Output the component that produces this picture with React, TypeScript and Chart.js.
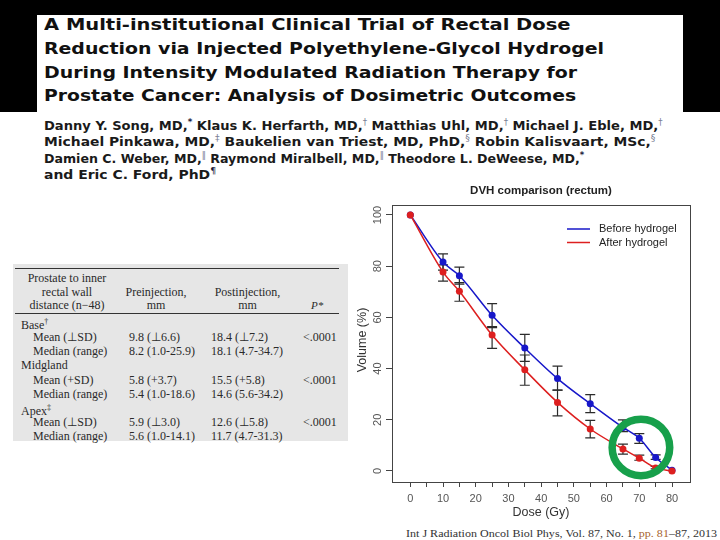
import React, { useEffect, useLayoutEffect, useRef } from 'react';
import { Chart, registerables } from 'chart.js';

Chart.register(...registerables);

// ---------- chart data ----------
const doses = [0, 10, 15, 25, 35, 45, 55, 65, 70, 75, 80];
const beforeHydrogel = [100, 81.6, 76.3, 60.8, 48.0, 36.1, 26.3, 17.0, 12.8, 5.3, 0.3];
const afterHydrogel = [100, 77.7, 70.2, 53.1, 39.5, 26.8, 16.4, 8.6, 5.0, 1.2, 0];
const beforeLow = [null, 78.5, 73.0, 56.4, 42.8, 31.6, 22.8, 15.4, 10.8, 4.5, null];
const beforeHigh = [null, 84.8, 79.6, 65.4, 53.4, 41.0, 29.8, 20.0, 14.6, 6.3, null];
const afterLow = [null, 74.2, 66.3, 47.9, 33.5, 21.5, 12.9, 6.6, 4.2, 0.8, null];
const afterHigh = [null, 80.5, 73.6, 56.0, 45.3, 31.6, 19.8, 10.5, 6.2, 1.8, null];
const yTickValues = [0, 20, 40, 60, 80, 100];
const seriesLabels = ['Before hydrogel', 'After hydrogel'];
const chartTitle = 'DVH comparison (rectum)';
const xTitle = 'Dose (Gy)';
const yTitle = 'Volume (%)';
const highlightCenter = { x: 70.5, y: 9.2 };

// ---------- slide text ----------
const titleLines = [
  'A Multi-institutional Clinical Trial of Rectal Dose',
  'Reduction via Injected Polyethylene-Glycol Hydrogel',
  'During Intensity Modulated Radiation Therapy for',
  'Prostate Cancer: Analysis of Dosimetric Outcomes',
];
const authorLines: [string, string][][] = [
  [['Danny Y. Song, MD,', '*'], [' Klaus K. Herfarth, MD,', '†'], [' Matthias Uhl, MD,', '†'], [' Michael J. Eble, MD,', '†']],
  [['Michael Pinkawa, MD,', '‡'], [' Baukelien van Triest, MD, PhD,', '§'], [' Robin Kalisvaart, MSc,', '§']],
  [['Damien C. Weber, MD,', '‖'], [' Raymond Miralbell, MD,', '‖'], [' Theodore L. DeWeese, MD,', '*']],
  [['and Eric C. Ford, PhD', '¶']],
];
const citation = ['Int J Radiation Oncol Biol Phys, Vol. 87, No. 1, ', 'pp. 81', '–87, 2013'];

const tableHeadLabel = ['Prostate to inner', 'rectal wall', 'distance (n−48)'];
const tableHeadPre = ['Preinjection,', 'mm'];
const tableHeadPost = ['Postinjection,', 'mm'];
const tableHeadP = 'P*';
const tableLabels = ['Base', 'Mean (⊥SD)', 'Median (range)', 'Midgland', 'Mean (+SD)', 'Median (range)', 'Apex', 'Mean (⊥SD)', 'Median (range)'];
const tableLabelSups = ['†', '', '', '', '', '', '‡', '', ''];
const tablePre = ['', '9.8 (⊥6.6)', '8.2 (1.0-25.9)', '', '5.8 (+3.7)', '5.4 (1.0-18.6)', '', '5.9 (⊥3.0)', '5.6 (1.0-14.1)'];
const tablePost = ['', '18.4 (⊥7.2)', '18.1 (4.7-34.7)', '', '15.5 (+5.8)', '14.6 (5.6-34.2)', '', '12.6 (⊥5.8)', '11.7 (4.7-31.3)'];
const tableP = ['', '<.0001', '', '', '<.0001', '', '', '<.0001', ''];

const SANS = '"Liberation Sans", Arial, sans-serif';
const BLUE = '#1717c9';
const RED = '#dd1f1f';

const Txt = ({ x, y, children, center, style }: any) => (
  <div
    style={{
      position: 'absolute',
      left: x,
      top: y - 7,
      lineHeight: '14px',
      whiteSpace: 'nowrap',
      transform: center ? 'translateX(-50%)' : undefined,
      ...style,
    }}
  >
    {children}
  </div>
);

function DvhChart() {
  const ref = useRef<HTMLCanvasElement>(null);
  useEffect(() => {
    const canvas = ref.current!;
    const decor = {
      id: 'decor',
      beforeDatasetsDraw(chart: any) {
        const { ctx, scales } = chart;
        const x = scales.x, y = scales.y;
        ctx.save();
        ctx.strokeStyle = '#2b2b2b';
        ctx.lineWidth = 1.2;
        const pairs = [[beforeLow, beforeHigh], [afterLow, afterHigh]];
        pairs.forEach(([lo, hi]) => {
          doses.forEach((d, i) => {
            if (lo[i] == null || hi[i] == null) return;
            const px = x.getPixelForValue(d);
            const y1 = y.getPixelForValue(lo[i]);
            const y2 = y.getPixelForValue(hi[i]);
            ctx.beginPath();
            ctx.moveTo(px, y1); ctx.lineTo(px, y2);
            ctx.moveTo(px - 5, y1); ctx.lineTo(px + 5, y1);
            ctx.moveTo(px - 5, y2); ctx.lineTo(px + 5, y2);
            ctx.stroke();
          });
        });
        ctx.restore();
      },
      afterDraw(chart: any) {
        const { ctx, chartArea: a, scales } = chart;
        const x = scales.x, y = scales.y;
        ctx.save();
        // frame
        ctx.strokeStyle = '#444';
        ctx.lineWidth = 1;
        ctx.strokeRect(a.left + 0.5, a.top + 0.5, a.right - a.left, a.bottom - a.top);
        // y tick labels (rotated)
        ctx.fillStyle = '#555';
        ctx.font = `11px ${SANS}`;
        ctx.textAlign = 'center';
        ctx.textBaseline = 'middle';
        yTickValues.forEach((v) => {
          ctx.save();
          ctx.translate(a.left - 14, y.getPixelForValue(v));
          ctx.rotate(-Math.PI / 2);
          ctx.fillText(String(v), 0, 0);
          ctx.restore();
        });
        // title
        ctx.fillStyle = '#222';
        ctx.font = `bold 11.5px ${SANS}`;
        ctx.fillText(chartTitle, (a.left + a.right) / 2, 11);
        // axis titles
        ctx.fillStyle = '#333';
        ctx.font = `12.5px ${SANS}`;
        ctx.fillText(xTitle, (a.left + a.right) / 2, 333);
        ctx.save();
        ctx.translate(13, 160);
        ctx.rotate(-Math.PI / 2);
        ctx.fillText(yTitle, 0, 0);
        ctx.restore();
        // legend
        const colors = [BLUE, RED];
        ctx.font = `11px ${SANS}`;
        ctx.textAlign = 'left';
        seriesLabels.forEach((lab, i) => {
          const ly = 49 + i * 13.5;
          ctx.strokeStyle = colors[i];
          ctx.lineWidth = 1.5;
          ctx.beginPath();
          ctx.moveTo(217, ly); ctx.lineTo(240, ly);
          ctx.stroke();
          ctx.fillStyle = '#222';
          ctx.fillText(lab, 249, ly);
        });
        // green highlight circle
        ctx.strokeStyle = '#17a04b';
        ctx.lineWidth = 7.5;
        ctx.beginPath();
        ctx.ellipse(x.getPixelForValue(highlightCenter.x), y.getPixelForValue(highlightCenter.y), 28.8, 28.3, 0, 0, Math.PI * 2);
        ctx.stroke();
        ctx.restore();
      },
    };
    const chart = new Chart(canvas, {
      type: 'line',
      data: {
        datasets: [
          {
            label: seriesLabels[1],
            data: doses.map((d, i) => ({ x: d, y: afterHydrogel[i] })),
            borderColor: RED,
            backgroundColor: RED,
            borderWidth: 1.5,
            pointRadius: 3.5,
            pointBorderWidth: 0,
            cubicInterpolationMode: 'monotone',
          },
          {
            label: seriesLabels[0],
            data: doses.map((d, i) => ({ x: d, y: beforeHydrogel[i] })),
            borderColor: BLUE,
            backgroundColor: BLUE,
            borderWidth: 1.5,
            pointRadius: 3.5,
            pointBorderWidth: 0,
            cubicInterpolationMode: 'monotone',
          },
        ],
      },
      options: {
        responsive: false,
        animation: false,
        layout: { padding: { left: 0, top: 25, right: 30, bottom: 0 } },
        plugins: { legend: { display: false }, title: { display: false }, tooltip: { enabled: false } },
        scales: {
          x: {
            type: 'linear',
            min: -5.6,
            max: 85.5,
            afterFit: (s: any) => { s.height = 43; },
            afterBuildTicks: (s: any) => { s.ticks = s.ticks.filter((t: any) => t.value >= 0 && t.value <= 80); },
            ticks: {
              stepSize: 5,
              includeBounds: false,
              autoSkip: false,
              maxRotation: 0,
              padding: 5,
              color: '#555',
              font: { family: SANS, size: 11 },
              callback: (v: any) => (v % 10 === 0 ? String(v) : ''),
            },
            grid: { drawOnChartArea: false, drawTicks: true, tickLength: 5, color: '#444' },
            border: { color: '#444' },
          },
          y: {
            type: 'linear',
            min: -4.3,
            max: 103.9,
            afterFit: (s: any) => { s.width = 42; },
            ticks: { stepSize: 20, includeBounds: false, display: false },
            grid: { drawOnChartArea: false, drawTicks: true, tickLength: 6, color: '#444' },
            border: { color: '#444' },
          },
        },
      } as any,
      plugins: [decor],
    });
    return () => chart.destroy();
  }, []);
  return (
    <canvas
      ref={ref}
      width={370}
      height={345}
      style={{ position: 'absolute', left: 350, top: 180, width: 370, height: 345 }}
    />
  );
}

const titleWidths = [527, 560, 533, 532];
const titleY = [25, 49, 72.5, 96];
const authorWidths = [619, 611, 540, 172];
const authorY = [122.5, 139, 155.5, 172];
const citationWidth = 311;

export default function App() {
  const rootRef = useRef<HTMLDivElement>(null);
  useLayoutEffect(() => {
    const els = rootRef.current!.querySelectorAll('[data-fit]');
    els.forEach((el: any) => {
      const target = parseFloat(el.getAttribute('data-fit'));
      const w = el.offsetWidth;
      if (w > 0) {
        el.style.transformOrigin = 'left center';
        el.style.transform = `scaleX(${target / w})`;
      }
    });
  }, []);

  const tableRowY = [322, 336.5, 351, 365, 379.5, 394, 408, 422, 436];
  const serif = '"Liberation Serif", "Times New Roman", serif';

  return (
    <div
      ref={rootRef}
      style={{ position: 'fixed', left: 0, top: 0, width: 720, height: 540, background: '#fff', overflow: 'hidden' }}
    >
      {/* black frame around the title */}
      <div style={{ position: 'absolute', left: 0, top: 0, width: 720, height: 112, background: '#000' }} />
      <div style={{ position: 'absolute', left: 37, top: 15, width: 646, height: 97, background: '#fff' }} />

      {/* title */}
      {titleLines.map((t, i) => (
        <div
          key={i}
          data-fit={titleWidths[i]}
          style={{
            position: 'absolute', left: 44, top: titleY[i] - 11, lineHeight: '22px', whiteSpace: 'nowrap',
            fontFamily: '"DejaVu Sans", sans-serif', fontWeight: 'bold', fontSize: 16.5, color: '#111',
          }}
        >
          {t}
        </div>
      ))}

      {/* authors */}
      {authorLines.map((segs, i) => (
        <div
          key={i}
          data-fit={authorWidths[i]}
          style={{
            position: 'absolute', left: 44, top: authorY[i] - 8, lineHeight: '16px', whiteSpace: 'nowrap',
            fontFamily: '"DejaVu Sans", sans-serif', fontWeight: 'bold', fontSize: 12, color: '#1a1a1a',
          }}
        >
          {segs.map(([txt, sup], j) => (
            <React.Fragment key={j}>
              {txt}
              <span style={{ fontSize: 8, fontWeight: sup === '*' ? 'bold' : 'normal', verticalAlign: '5px', color: sup === '*' || sup === '¶' ? '#1a1a3a' : '#7a7f95' }}>{sup}</span>
            </React.Fragment>
          ))}
        </div>
      ))}

      {/* table */}
      <div style={{ position: 'absolute', left: 13, top: 264, width: 335, height: 177, background: '#e6e6e6' }} />
      <div style={{ position: 'absolute', left: 15, top: 268, width: 324, height: 1, background: '#333' }} />
      <div style={{ position: 'absolute', left: 15, top: 313, width: 324, height: 1, background: '#333' }} />
      <div style={{ fontFamily: serif, fontSize: 12, color: '#2a2a2a' }}>
        {tableHeadLabel.map((t, i) => (
          <Txt key={'h' + i} x={67} y={278 + i * 13.5} center>{t}</Txt>
        ))}
        {tableHeadPre.map((t, i) => (
          <Txt key={'pr' + i} x={156} y={291.5 + i * 13.5} center>{t}</Txt>
        ))}
        {tableHeadPost.map((t, i) => (
          <Txt key={'po' + i} x={247.5} y={291.5 + i * 13.5} center>{t}</Txt>
        ))}
        <Txt x={311} y={305} style={{ fontStyle: 'italic', fontSize: 11 }}>{tableHeadP}</Txt>
        {tableLabels.map((t, i) => (
          <Txt key={'l' + i} x={tableLabelSups[i] !== '' || tablePre[i] === '' ? 21 : 33} y={tableRowY[i]}>
            {t}
            {tableLabelSups[i] && <span style={{ fontSize: 8, verticalAlign: '5px' }}>{tableLabelSups[i]}</span>}
          </Txt>
        ))}
        {tablePre.map((t, i) => t && <Txt key={'v' + i} x={129} y={tableRowY[i]}>{t}</Txt>)}
        {tablePost.map((t, i) => t && <Txt key={'w' + i} x={211} y={tableRowY[i]}>{t}</Txt>)}
        {tableP.map((t, i) => t && <Txt key={'p' + i} x={303} y={tableRowY[i]}>{t}</Txt>)}
      </div>

      <DvhChart />

      {/* citation */}
      <div
        data-fit={citationWidth}
        style={{
          position: 'absolute', left: 406, top: 533 - 7, lineHeight: '14px', whiteSpace: 'nowrap',
          fontFamily: serif, fontSize: 11, color: '#333',
        }}
      >
        {citation[0]}
        <span style={{ color: '#a8642e' }}>{citation[1]}</span>
        {citation[2]}
      </div>
    </div>
  );
}
